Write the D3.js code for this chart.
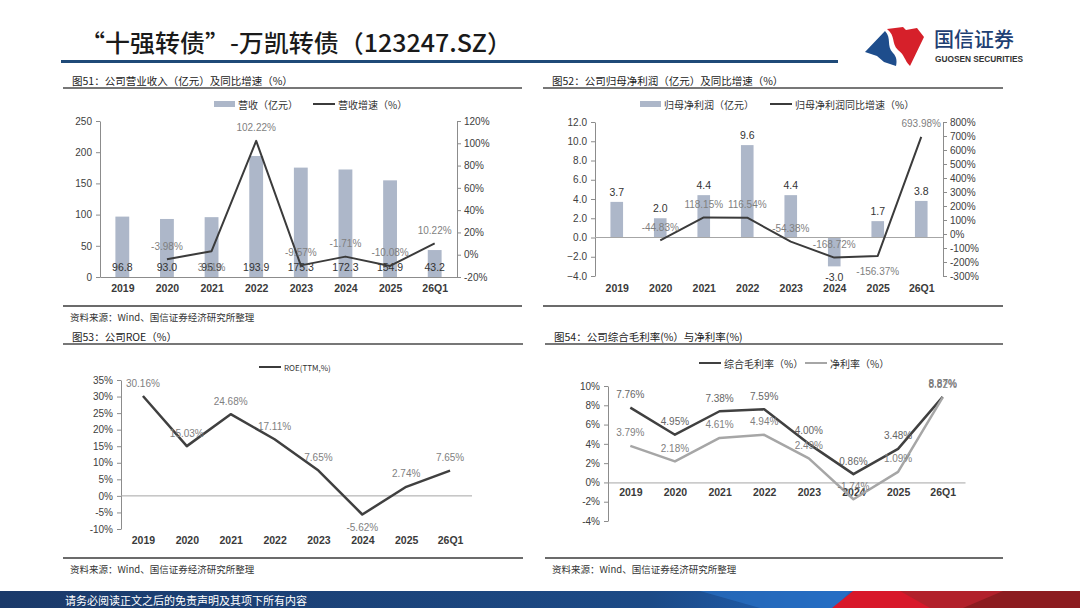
<!DOCTYPE html>
<html>
<head>
<meta charset="utf-8">
<script src="https://cdn.jsdelivr.net/npm/d3@7"></script>
<style>
  body { margin: 0; background: #fff; }
  svg text { font-family: "Liberation Sans", "Noto Sans CJK SC", sans-serif; }
  .cjk { font-family: "Noto Sans CJK SC", sans-serif; }
</style>
</head>
<body>
<svg id="slide" width="1080" height="608"></svg>
<script>
// categories
var years = ["2019", "2020", "2021", "2022", "2023", "2024", "2025", "26Q1"];

// 图51 revenue (亿元) and yoy growth (%)
var revenue = [96.8, 93.0, 95.9, 193.9, 175.3, 172.3, 154.9, 43.2];
var revenueGrowth = [null, -3.98, 3.11, 102.22, -9.57, -1.71, -10.08, 10.22];
var revenueTicks = [0, 50, 100, 150, 200, 250];
var revenueGrowthTicks = [-20, 0, 20, 40, 60, 80, 100, 120];

// 图52 net profit attributable (亿元) and yoy growth (%)
var netProfit = [3.7, 2.0, 4.4, 9.6, 4.4, -3.0, 1.7, 3.8];
var profitGrowth = [null, -44.83, 118.15, 116.54, -54.38, -168.72, -156.37, 693.98];
var profitTicks = [-4, -2, 0, 2, 4, 6, 8, 10, 12];
var profitGrowthTicks = [-300, -200, -100, 0, 100, 200, 300, 400, 500, 600, 700, 800];

// 图53 ROE (TTM, %)
var roe = [30.16, 15.03, 24.68, 17.11, 7.65, -5.62, 2.74, 7.65];
var roeTicks = [-10, -5, 0, 5, 10, 15, 20, 25, 30, 35];

// 图54 gross margin and net margin (%)
var grossMargin = [7.76, 4.95, 7.38, 7.59, 4.00, 0.86, 3.48, 8.87];
var netMargin = [3.79, 2.18, 4.61, 4.94, 2.49, -1.74, 1.09, 8.82];
var marginTicks = [-4, -2, 0, 2, 4, 6, 8, 10];

// labels that sit under their point instead of over it
var revenueGrowthBelow = ["2021"];
var profitGrowthBelow = ["2025"];
var roeBelow = ["2024"];

var BAR = "#adb7c9", DARK = "#3b3b3b", LIGHT = "#a6a6a6", AXIS = "#8c8c8c";
var SOURCE = "资料来源：Wind、国信证券经济研究所整理";

var svg = d3.select("#slide");

// ---------- slide frame ----------
svg.append("text").attr("class", "cjk")
  .attr("x", 80).attr("y", 52)
  .attr("font-size", 24).attr("font-weight", 500).attr("fill", "#1a1a1a")
  .attr("textLength", 432).attr("lengthAdjust", "spacingAndGlyphs")
  .text("“十强转债”-万凯转债（123247.SZ）");
svg.append("rect").attr("x", 61).attr("y", 60).attr("width", 777).attr("height", 3).attr("fill", "#1f4a78");

// logo
svg.append("path").attr("fill", "#1e4d8c")
  .attr("d", "M865,52 L885,31 C892,38 886,46 893,53 C897,57 897,62 896,66 L884,62 L877,56 Z");
svg.append("path").attr("fill", "#d6202a")
  .attr("d", "M887,29 L903,27 L906,30 L917,28 L924,37 L910,66 C904,60 905,55 898,50 C891,43 896,36 887,29 Z");
svg.append("text").attr("class", "cjk").attr("x", 934).attr("y", 47)
  .attr("font-size", 20).attr("font-weight", 500).attr("fill", "#1e3f73").text("国信证券");
svg.append("text").attr("x", 935).attr("y", 62)
  .attr("font-size", 8.3).attr("font-weight", "bold").attr("fill", "#333").text("GUOSEN SECURITIES");

// footer
var grad = svg.append("defs").append("linearGradient").attr("id", "footBlue");
grad.append("stop").attr("offset", "0%").attr("stop-color", "#1b3a6a");
grad.append("stop").attr("offset", "60%").attr("stop-color", "#1c4a86");
grad.append("stop").attr("offset", "80%").attr("stop-color", "#2066bf");
svg.append("rect").attr("x", 0).attr("y", 591).attr("width", 1080).attr("height", 17).attr("fill", "url(#footBlue)");
svg.append("path").attr("fill", "#2a74cc").attr("d", "M700,591 L850,591 L835,608 L760,608 Z").attr("opacity", 0.6);
svg.append("path").attr("fill", "#d8182a").attr("d", "M853,591 L1080,591 L1080,608 L832,608 Z");
svg.append("path").attr("fill", "#a9242c").attr("d", "M900,591 L1080,591 L1080,608 L930,608 Z").attr("opacity", 0.8);
svg.append("path").attr("fill", "#8c1c20").attr("d", "M1003,591 L1080,591 L1080,608 L963,608 Z");
svg.append("text").attr("class", "cjk").attr("x", 65).attr("y", 605)
  .attr("font-size", 11).attr("fill", "#fff").text("请务必阅读正文之后的免责声明及其项下所有内容");

// ---------- helpers ----------
function panelFrame(x0, x1, title, titleY, bottomY, withSource) {
  svg.append("text").attr("class", "cjk").attr("x", x0 + 9).attr("y", titleY)
    .attr("dominant-baseline", "central").attr("font-size", 10.5).attr("fill", "#222").text(title);
  svg.append("line").attr("x1", x0).attr("x2", x1).attr("y1", titleY + 8).attr("y2", titleY + 8)
    .attr("stroke", "#4a4a4a").attr("stroke-width", 1.5);
  svg.append("line").attr("x1", x0).attr("x2", x1).attr("y1", bottomY).attr("y2", bottomY)
    .attr("stroke", "#6b6b6b").attr("stroke-width", 1.8);
  if (withSource) {
    svg.append("text").attr("class", "cjk").attr("x", x0 + 7).attr("y", bottomY + 11)
      .attr("dominant-baseline", "central").attr("font-size", 9.5).attr("fill", "#333").text(SOURCE);
  }
}

function legendBar(x, y, label) {
  svg.append("rect").attr("x", x).attr("y", y - 3).attr("width", 21).attr("height", 6).attr("fill", BAR);
  svg.append("text").attr("class", "cjk").attr("x", x + 24).attr("y", y).attr("dominant-baseline", "central")
    .attr("font-size", 10).attr("fill", "#333").text(label);
}

function legendLine(x, y, color, label, size) {
  svg.append("line").attr("x1", x).attr("x2", x + 22).attr("y1", y).attr("y2", y)
    .attr("stroke", color).attr("stroke-width", 2);
  svg.append("text").attr("class", "cjk").attr("x", x + 25).attr("y", y).attr("dominant-baseline", "central")
    .attr("font-size", size || 10).attr("fill", "#333").text(label);
}

function styleAxis(g, fontSize) {
  g.select(".domain").attr("stroke", AXIS);
  g.selectAll(".tick line").attr("stroke", AXIS);
  g.selectAll(".tick text").attr("fill", "#404040").attr("font-size", fontSize || 10);
}

function xAxis(x, y, pad, withLine) {
  var g = svg.append("g").attr("transform", "translate(0," + y + ")")
    .call(d3.axisBottom(x).tickSize(0).tickPadding(pad));
  styleAxis(g, 10.5);
  g.selectAll(".tick text").attr("font-weight", "bold").attr("fill", "#3a3a3a");
  if (!withLine) g.select(".domain").remove();
  return g;
}

function zeroLine(x, y) {
  svg.append("line").attr("x1", x.range()[0]).attr("x2", x.range()[1])
    .attr("y1", y(0)).attr("y2", y(0)).attr("stroke", LIGHT).attr("stroke-width", 1);
}

function drawLine(x, y, values, color, width) {
  var line = d3.line()
    .defined(function (d) { return d != null; })
    .x(function (d, i) { return x(years[i]); })
    .y(function (d) { return y(d); });
  svg.append("path").datum(values).attr("fill", "none")
    .attr("stroke", color).attr("stroke-width", width).attr("stroke-linejoin", "round")
    .attr("d", line);
}

function pointLabels(x, y, values, below, color, belowGap) {
  svg.append("g").selectAll("text")
    .data(values.map(function (v, i) { return { v: v, c: years[i] }; })
      .filter(function (d) { return d.v != null; }))
    .enter().append("text")
    .attr("x", function (d) { return x(d.c); })
    .attr("y", function (d) { return y(d.v) + (below.indexOf(d.c) >= 0 ? (belowGap || 16) : -13); })
    .attr("text-anchor", "middle").attr("dominant-baseline", "central")
    .attr("font-size", 10).attr("fill", color || "#7f7f7f")
    .text(function (d) { return d.v.toFixed(2) + "%"; });
}

function pct(d) { return d + "%"; }

// ---------- 图51 ----------
(function () {
  panelFrame(63, 522, "图51：公司营业收入（亿元）及同比增速（%）", 80, 306, true);
  legendBar(214, 104, "营收（亿元）");
  legendLine(313, 104, DARK, "营收增速（%）");

  var x = d3.scaleBand().domain(years).range([100, 457]).paddingInner(0.69).paddingOuter(0.345);
  var xc = d3.scalePoint().domain(years).range([100, 457]).padding(0.5);
  var y = d3.scaleLinear().domain([0, 250]).range([277, 121]);
  var y2 = d3.scaleLinear().domain([-20, 120]).range([277, 121]);

  styleAxis(svg.append("g").attr("transform", "translate(100,0)")
    .call(d3.axisLeft(y).tickValues(revenueTicks).tickSize(4).tickSizeOuter(0).tickPadding(4)));
  styleAxis(svg.append("g").attr("transform", "translate(457,0)")
    .call(d3.axisRight(y2).tickValues(revenueGrowthTicks).tickFormat(pct).tickSize(4).tickSizeOuter(0).tickPadding(3)));

  svg.append("g").selectAll("rect").data(revenue).enter().append("rect")
    .attr("x", function (d, i) { return x(years[i]); })
    .attr("width", x.bandwidth())
    .attr("y", function (d) { return y(d); })
    .attr("height", function (d) { return y(0) - y(d); })
    .attr("fill", BAR);

  xAxis(xc, 277, 8, true);

  svg.append("g").selectAll("text").data(revenue).enter().append("text")
    .attr("x", function (d, i) { return xc(years[i]); })
    .attr("y", y(0) - 10)
    .attr("text-anchor", "middle").attr("dominant-baseline", "central")
    .attr("font-size", 10.5).attr("fill", "#333")
    .text(function (d) { return d.toFixed(1); });

  drawLine(xc, y2, revenueGrowth, DARK, 2);
  pointLabels(xc, y2, revenueGrowth, revenueGrowthBelow);
})();

// ---------- 图52 ----------
(function () {
  panelFrame(543, 1003, "图52：公司归母净利润（亿元）及同比增速（%）", 80, 306, false);
  legendBar(640, 104, "归母净利润（亿元）");
  legendLine(770, 104, DARK, "归母净利润同比增速（%）");

  var x = d3.scaleBand().domain(years).range([595, 943]).paddingInner(0.71).paddingOuter(0.355);
  var xc = d3.scalePoint().domain(years).range([595, 943]).padding(0.5);
  var y = d3.scaleLinear().domain([-4, 12]).range([276, 122]);
  var y2 = d3.scaleLinear().domain([-300, 800]).range([276, 122]);

  styleAxis(svg.append("g").attr("transform", "translate(595,0)")
    .call(d3.axisLeft(y).tickValues(profitTicks).tickFormat(d3.format(".1f")).tickSize(4).tickSizeOuter(0).tickPadding(4)));
  styleAxis(svg.append("g").attr("transform", "translate(943,0)")
    .call(d3.axisRight(y2).tickValues(profitGrowthTicks).tickFormat(pct).tickSize(4).tickSizeOuter(0).tickPadding(3)));

  svg.append("g").selectAll("rect").data(netProfit).enter().append("rect")
    .attr("x", function (d, i) { return x(years[i]); })
    .attr("width", x.bandwidth())
    .attr("y", function (d) { return y(Math.max(0, d)); })
    .attr("height", function (d) { return Math.abs(y(d) - y(0)); })
    .attr("fill", BAR);

  zeroLine(xc, y);
  xAxis(xc, 276, 9, false);

  svg.append("g").selectAll("text").data(netProfit).enter().append("text")
    .attr("x", function (d, i) { return xc(years[i]); })
    .attr("y", function (d) { return d >= 0 ? y(d) - 10 : y(d) + 11; })
    .attr("text-anchor", "middle").attr("dominant-baseline", "central")
    .attr("font-size", 10.5).attr("fill", "#333")
    .text(function (d) { return d.toFixed(1); });

  drawLine(xc, y2, profitGrowth, DARK, 2);
  pointLabels(xc, y2, profitGrowth, profitGrowthBelow);
})();

// ---------- 图53 ----------
(function () {
  panelFrame(63, 523, "图53：公司ROE（%）", 336, 558, true);
  legendLine(259, 367, DARK, "ROE(TTM,%)", 8);

  var xc = d3.scalePoint().domain(years).range([121, 472]).padding(0.5);
  var y = d3.scaleLinear().domain([-10, 35]).range([529, 380]);

  styleAxis(svg.append("g").attr("transform", "translate(121,0)")
    .call(d3.axisLeft(y).tickValues(roeTicks).tickFormat(pct).tickSize(4).tickSizeOuter(0).tickPadding(4)));

  zeroLine(xc, y);
  xAxis(xc, 529, 8, false);

  drawLine(xc, y, roe, "#404040", 2.5);
  pointLabels(xc, y, roe, roeBelow, null, 13);
})();

// ---------- 图54 ----------
(function () {
  panelFrame(545, 1003, "图54：公司综合毛利率(%）与净利率(%)", 336, 558, true);
  legendLine(699, 363, "#404040", "综合毛利率（%）");
  legendLine(805, 363, LIGHT, "净利率（%）");

  var xc = d3.scalePoint().domain(years).range([608, 965]).padding(0.5);
  var y = d3.scaleLinear().domain([-4, 10]).range([521, 386]);

  styleAxis(svg.append("g").attr("transform", "translate(608,0)")
    .call(d3.axisLeft(y).tickValues(marginTicks).tickFormat(pct).tickSize(4).tickSizeOuter(0).tickPadding(4)));

  var g = xAxis(xc, y(0), 6, true);
  g.select(".domain").attr("stroke", LIGHT);

  drawLine(xc, y, grossMargin, "#404040", 2.5);
  drawLine(xc, y, netMargin, LIGHT, 2.5);
  pointLabels(xc, y, grossMargin, [], "#666");
  pointLabels(xc, y, netMargin, [], "#7f7f7f");
})();
</script>
</body>
</html>
